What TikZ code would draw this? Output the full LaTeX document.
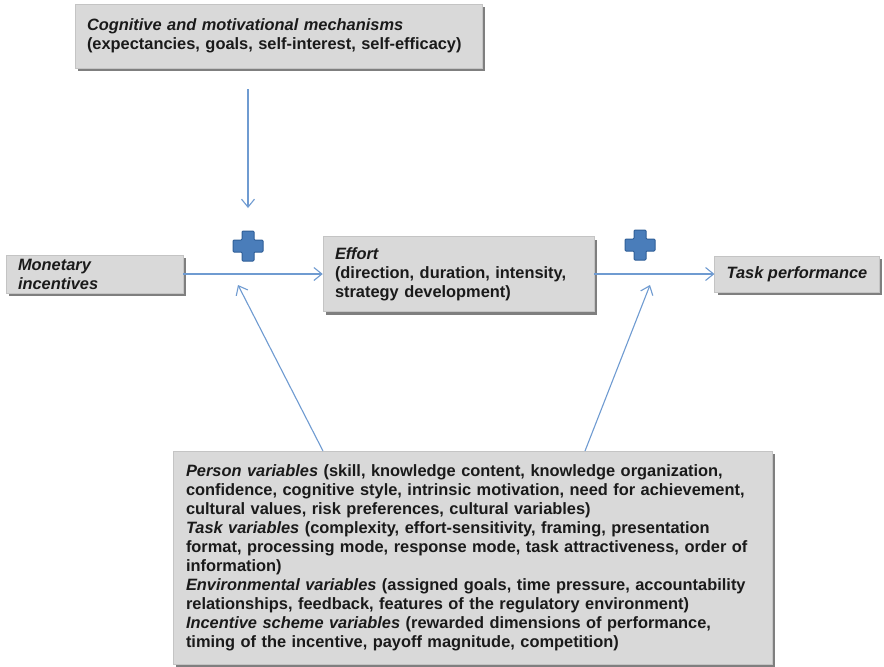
\documentclass[tikz,border=0pt]{standalone}
\usepackage{fontspec}
\setmainfont{Liberation Sans}
\usetikzlibrary{arrows.meta,shadows}
\definecolor{boxfill}{HTML}{D9D9D9}
\definecolor{boxline}{HTML}{C4C4C4}
\definecolor{shadowc}{HTML}{7F7F7F}
\definecolor{arrowc}{HTML}{6F9BD1}
\definecolor{plusfill}{HTML}{4A7DBA}
\definecolor{plusline}{HTML}{2F5F98}
\definecolor{txt}{HTML}{1A1A1A}
\begin{document}
\begin{tikzpicture}[x=1pt,y=-1pt,
  box/.style={rectangle, fill=boxfill, draw=boxline, line width=0.5pt,
    inner xsep=12pt, inner ysep=0pt, align=left, text=txt,
    font=\fontsize{16.4}{19}\selectfont\bfseries,
    general shadow={fill=shadowc, shadow xshift=3pt, shadow yshift=-3pt}},
  conn/.style={draw=arrowc, line width=1.1pt, -{Straight Barb[length=8pt,width=13pt]}},
  plusnode/.style={minimum size=30pt, inner sep=0pt},
  plusshape/.style={fill=plusfill, draw=plusline, line width=1pt, rounded corners=1pt}
]
\useasboundingbox (0,0) rectangle (884,667);
\fill[white] (0,0) rectangle (884,667);

\node[box, minimum width=407pt, minimum height=64pt, text width=383pt] (top) at (278.5,36)
  {{\itshape Cognitive and motivational mechanisms}\\(expectancies, goals, self-interest, self-efficacy)};
\node[box, minimum width=177pt, minimum height=38pt, text width=153pt] (mon) at (94.5,274)
  {\itshape Monetary\\\itshape incentives};
\node[box, minimum width=271pt, minimum height=75pt, text width=247pt] (eff) at (458.5,274)
  {{\itshape Effort}\\(direction, duration, intensity,\\strategy development)};
\node[box, minimum width=162pt, minimum height=36pt] (task) at (797,274)
  {\itshape Task performance};
\node[box, minimum width=599pt, minimum height=213pt, text width=573pt] (bot) at (472.5,557.5)
  {{\itshape Person variables} (skill, knowledge content, knowledge organization,\\
   confidence, cognitive style, intrinsic motivation, need for achievement,\\
   cultural values, risk preferences, cultural variables)\\
   {\itshape Task variables} (complexity, effort-sensitivity, framing, presentation\\
   format, processing mode, response mode, task attractiveness, order of\\
   information)\\
   {\itshape Environmental variables} (assigned goals, time pressure, accountability\\
   relationships, feedback, features of the regulatory environment)\\
   {\itshape Incentive scheme variables} (rewarded dimensions of performance,\\
   timing of the incentive, payoff magnitude, competition)};

\node[plusnode] (plus1) at (248,246) {};
\node[plusnode] (plus2) at (640,245) {};
\foreach \p in {plus1,plus2}{
  \filldraw[plusshape] (\p.center) ++(-6,-15) -- ++(12,0) -- ++(0,9) -- ++(9,0) -- ++(0,12)
      -- ++(-9,0) -- ++(0,9) -- ++(-12,0) -- ++(0,-9) -- ++(-9,0) -- ++(0,-12) -- ++(9,0) -- cycle;
}

\coordinate (ta) at (248,89);
\coordinate (tb) at (248,208);
\coordinate (la) at (323,451);
\coordinate (lb) at (238,285);
\coordinate (ra) at (585,451);
\coordinate (rb) at (650,285);

\draw[conn] (ta) -- (tb);
\draw[conn] (mon.east) -- (eff.west);
\draw[conn] (eff.east) -- (task.west);
\draw[conn] (la) -- (lb);
\draw[conn] (ra) -- (rb);
\end{tikzpicture}
\end{document}
